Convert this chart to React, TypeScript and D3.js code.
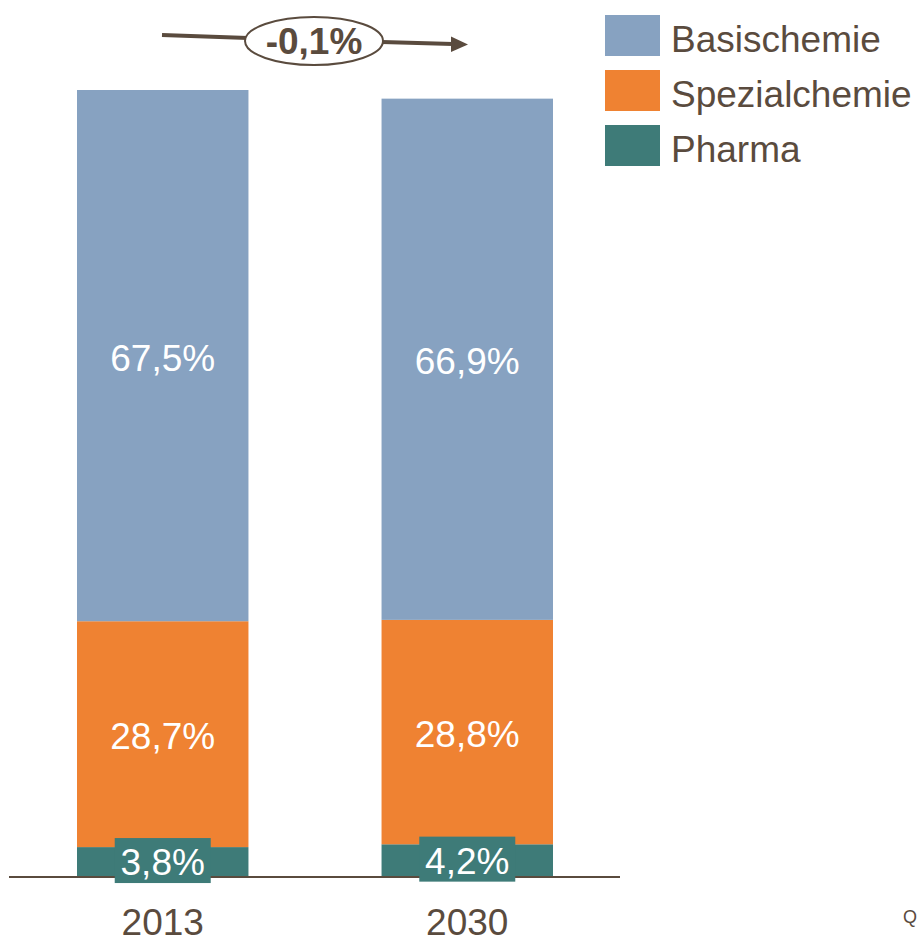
import React from "react";
import * as d3 from "d3";

const years = ["2013", "2030"];
const segments = ["Pharma", "Spezialchemie", "Basischemie"];
const legendOrder = ["Basischemie", "Spezialchemie", "Pharma"];
const totals = [100, 99];
const sharePharma = [3.8, 4.2];
const shareSpezial = [28.7, 28.8];
const shareBasis = [67.5, 66.9];
const cagrLabel = "-0,1%";
const colors: Record<string, string> = {
  Basischemie: "#87a2c1",
  Spezialchemie: "#ef8232",
  Pharma: "#3e7b78",
};
const ink = "#5a4b3e";
const font = "'Liberation Sans', Arial, sans-serif";

const fmt = (v: number) => v.toFixed(1).replace(".", ",") + "%";

export default function App() {
  const width = 917;
  const height = 944;
  const x = d3.scaleBand<string>().domain(years).range([77, 553]).paddingInner(0.437).paddingOuter(0);
  const y = d3.scaleLinear().domain([0, 100]).range([877, 90]);

  const rows = years.map((yr, i) => ({
    year: yr,
    Pharma: (sharePharma[i] / 100) * totals[i],
    Spezialchemie: (shareSpezial[i] / 100) * totals[i],
    Basischemie: (shareBasis[i] / 100) * totals[i],
    shares: { Pharma: sharePharma[i], Spezialchemie: shareSpezial[i], Basischemie: shareBasis[i] } as Record<string, number>,
  }));
  const stack = d3.stack<any>().keys(segments)(rows);

  const cells = stack.flatMap((layer) =>
    layer.map((d, i) => {
      const bx = x(rows[i].year)!;
      const bw = x.bandwidth();
      const y0 = y(d[1]);
      const y1 = y(d[0]);
      return {
        key: layer.key,
        i,
        bx,
        bw,
        y0,
        y1,
        cx: bx + bw / 2,
        cy: (y0 + y1) / 2,
        label: fmt(rows[i].shares[layer.key]),
      };
    })
  );

  return (
    <svg width={width} height={height} style={{ display: "block", position: "absolute", left: 0, top: 0 }}>
      <rect width={width} height={height} fill="#fff" />
      {cells.map((c) => (
        <rect key={`r-${c.key}-${c.i}`} x={c.bx} y={c.y0} width={c.bw} height={c.y1 - c.y0} fill={colors[c.key]} />
      ))}
      <line x1={9} x2={620} y1={877} y2={877} stroke={ink} strokeWidth={2} />
      {cells.map((c) =>
        c.key === "Pharma" ? (
          <g key={`l-${c.key}-${c.i}`}>
            <rect x={c.cx - 48} y={c.cy - 24} width={96} height={45} fill={colors.Pharma} />
            <text x={c.cx} y={c.cy + 13} textAnchor="middle" fill="#fff" fontSize={37} fontFamily={font}>{c.label}</text>
          </g>
        ) : (
          <text key={`l-${c.key}-${c.i}`} x={c.cx} y={c.cy + 15} textAnchor="middle" fill="#fff" fontSize={37} fontFamily={font}>{c.label}</text>
        )
      )}
      {years.map((yr) => (
        <text key={yr} x={x(yr)! + x.bandwidth() / 2} y={935} textAnchor="middle" fill={ink} fontSize={37} fontFamily={font}>{yr}</text>
      ))}
      {/* growth arrow */}
      <line x1={162} y1={35} x2={248} y2={38} stroke={ink} strokeWidth={4} />
      <line x1={382} y1={42} x2={453} y2={44} stroke={ink} strokeWidth={4} />
      <path d="M451,36.5 L468,44.5 L451,52 Z" fill={ink} />
      <ellipse cx={314} cy={41} rx={69} ry={24} fill="#fff" stroke={ink} strokeWidth={2} />
      <text x={314} y={54} textAnchor="middle" fill={ink} fontSize={37} fontWeight="bold" fontFamily={font}>{cagrLabel}</text>
      {/* legend */}
      {legendOrder.map((k, i) => (
        <g key={k} transform={`translate(605,${15 + i * 55})`}>
          <rect width={55} height={41} fill={colors[k]} />
          <text x={66} y={37} fill={ink} fontSize={37} fontFamily={font}>{k}</text>
        </g>
      ))}
      <text x={903} y={923} fill={ink} fontSize={18} fontFamily={font}>Q</text>
    </svg>
  );
}
